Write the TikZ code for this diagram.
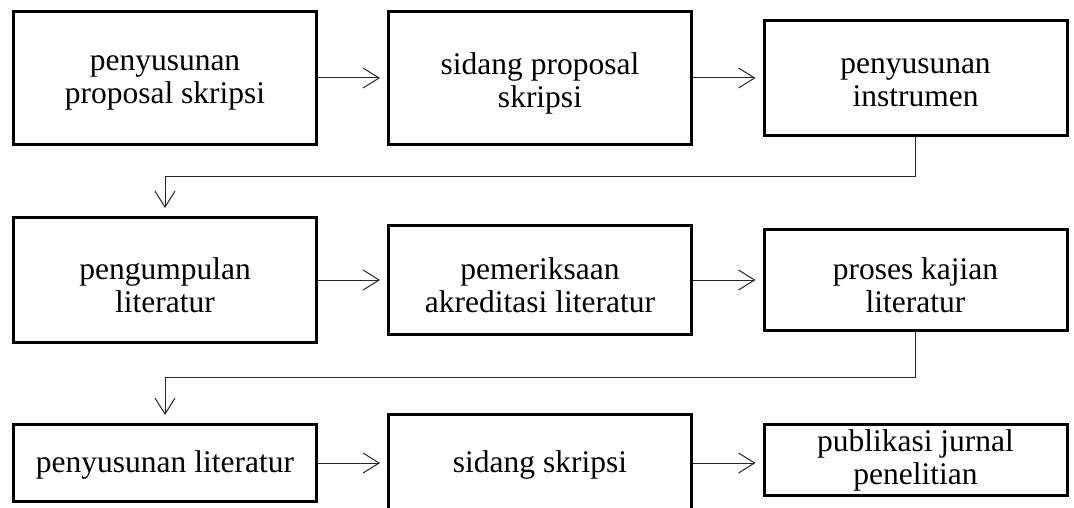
\documentclass[tikz,border=0pt]{standalone}
\usepackage{fontspec}
\setmainfont{Liberation Serif}
\usetikzlibrary{arrows.meta}
\begin{document}
\begin{tikzpicture}[x=1pt,y=-1pt,
  box/.style={draw=black, line width=3pt, minimum width=303pt, inner sep=0pt},
  txt/.style={align=center, inner sep=0pt, font=\fontsize{31.5}{33}\selectfont},
  conn/.style={line width=1pt, draw=black!85,
    -{Straight Barb[length=16pt,width=20pt,line width=1pt]}, shorten >=7pt}]
\useasboundingbox (0,0) rectangle (1074,508);
% row 1
\node[box, minimum height=133pt] (A) at (165,78) {};
\node[box, minimum height=133pt] (B) at (540,78) {};
\node[box, minimum height=115pt] (C) at (915.5,78) {};
% row 2
\node[box, minimum height=125pt] (D) at (165,280) {};
\node[box, minimum height=109pt] (E) at (540,280) {};
\node[box, minimum height=101pt] (F) at (915.5,280) {};
% row 3
\node[box, minimum height=77pt] (G) at (165,463) {};
\node[box, minimum height=97pt] (H) at (540,463) {};
\node[box, minimum height=71pt] (I) at (915.5,460) {};
% texts
\node[txt] (At) at ([yshift=-5pt]A.center) {penyusunan\\proposal skripsi};
\node[txt] (Bt) at ([yshift=-5pt]B.center) {sidang proposal\\skripsi};
\node[txt] (Ct) at ([yshift=-5pt]C.center) {penyusunan\\instrumen};
\node[txt] (Dt) at ([yshift=-5pt]D.center) {pengumpulan\\literatur};
\node[txt] (Et) at ([yshift=-5pt]E.center) {pemeriksaan\\akreditasi literatur};
\node[txt] (Ft) at ([yshift=-5pt]F.center) {proses kajian\\literatur};
\node[txt] (Gt) at ([yshift=-2pt]G.center) {penyusunan literatur};
\node[txt] (Ht) at ([yshift=-2pt]H.center) {sidang skripsi};
\node[txt] (It) at ([yshift=0pt]I.center) {publikasi jurnal\\penelitian};
% connectors
\coordinate (k1) at (165,177);
\coordinate (k2) at (165,377);
\draw[conn] (A.east) -- (B.west);
\draw[conn] (B.east) -- (C.west);
\draw[conn, shorten >=8pt] (C.south) |- (k1) -- (D.north);
\draw[conn] (D.east) -- (E.west);
\draw[conn] (E.east) -- (F.west);
\draw[conn, shorten >=8pt] (F.south) |- (k2) -- (G.north);
\draw[conn] (G.east) -- (H.west);
\draw[conn] (H.east) -- (I.west|-H.east);
\end{tikzpicture}
\end{document}
